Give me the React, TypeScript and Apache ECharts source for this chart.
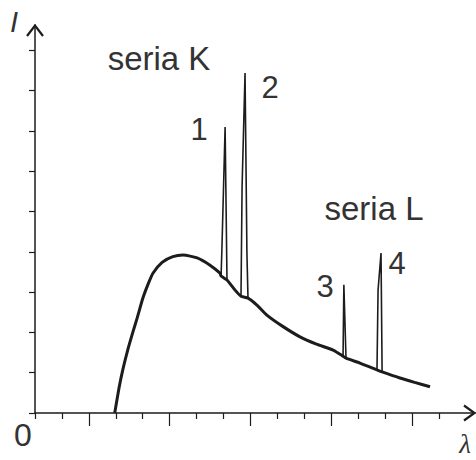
import React, { useEffect, useRef } from "react";
import * as echarts from "echarts";

// Continuous (bremsstrahlung) spectrum, lambda in tick units, intensity in tick units
const contLambda = [2.96, 3.12, 3.27, 3.45, 3.64, 3.79, 4.01, 4.2, 4.38, 4.72, 5.12, 5.5, 6.02, 6.5, 6.87, 6.91, 7.13, 7.43, 7.65, 7.91, 8.24, 8.61, 9.2, 9.84, 10.45, 11.07, 11.44, 11.55, 12.07, 12.7, 12.89, 13.55, 14.1, 14.67];
const contIntensity = [0, 0.62, 1.1, 1.58, 2.02, 2.35, 2.86, 3.2, 3.47, 3.74, 3.88, 3.92, 3.85, 3.67, 3.47, 3.4, 3.3, 3.05, 2.9, 2.85, 2.68, 2.43, 2.15, 1.89, 1.71, 1.56, 1.41, 1.36, 1.24, 1.07, 1.02, 0.87, 0.76, 0.65];

// Characteristic lines (spikes)
const spike1Lambda = [6.87, 6.91, 6.94, 7.06, 7.13];
const spike1Intensity = [3.47, 3.4, 4.04, 7.1, 3.3];
const spike2Lambda = [7.65, 7.69, 7.8, 7.87, 7.91];
const spike2Intensity = [2.9, 5.61, 8.44, 3.97, 2.85];
const spike3Lambda = [11.44, 11.47, 11.55];
const spike3Intensity = [1.41, 3.18, 1.36];
const spike4Lambda = [12.7, 12.74, 12.85, 12.89];
const spike4Intensity = [1.07, 3.05, 3.97, 1.02];

const yTicks = [0, 1, 2, 3, 4, 5, 6, 7, 8, 9];
const xShortTicks = [0, 1, 3, 4, 6, 7, 9, 10, 12, 13, 15];
const xLongTicks = [2, 5, 8, 11, 14];
const X_MAX = 16.34;
const Y_MAX = 9.63;

const zip = (xs: number[], ys: number[]) => xs.map((x, i) => [x, ys[i]]);

const INK = "#1c1c1c";
const TEXT = "#333333";
const FONT = "'Liberation Sans', Arial, Helvetica, sans-serif";

export default function App() {
  const ref = useRef<HTMLDivElement>(null);
  useEffect(() => {
    if (!ref.current) return;
    const chart = echarts.init(ref.current, null, { renderer: "svg" });
    const spikes = [
      zip(spike1Lambda, spike1Intensity),
      zip(spike2Lambda, spike2Intensity),
      zip(spike3Lambda, spike3Intensity),
      zip(spike4Lambda, spike4Intensity),
    ];
    const textStyle = (size: number, extra: any = {}) => ({
      fill: TEXT,
      fontSize: size,
      fontFamily: FONT,
      textAlign: "center",
      textVerticalAlign: "middle",
      ...extra,
    });
    const texts = [
      { type: "text", x: 159, y: 58, style: { text: "seria K", ...textStyle(33) } },
      { type: "text", x: 374, y: 208, style: { text: "seria L", ...textStyle(33) } },
      { type: "text", x: 199, y: 129, style: { text: "1", ...textStyle(31) } },
      { type: "text", x: 270, y: 87, style: { text: "2", ...textStyle(31) } },
      { type: "text", x: 325, y: 286, style: { text: "3", ...textStyle(31) } },
      { type: "text", x: 397, y: 263, style: { text: "4", ...textStyle(31) } },
      { type: "text", x: 23, y: 435, style: { text: "0", ...textStyle(32) } },
      { type: "text", x: 14, y: 22, style: { text: "I", ...textStyle(29, { fontStyle: "italic" }) } },
      {
        type: "text",
        x: 465,
        y: 444,
        style: { text: "λ", ...textStyle(27, { fontStyle: "italic", fontFamily: "'Liberation Serif', 'DejaVu Serif', serif" }) },
      },
    ];
    chart.setOption({
      animation: false,
      backgroundColor: "#ffffff",
      grid: { left: 35, right: 1, top: 25, bottom: 47, containLabel: false },
      xAxis: [
        {
          type: "value",
          min: 0,
          max: X_MAX,
          position: "bottom",
          splitLine: { show: false },
          axisLabel: { show: false },
          axisLine: {
            show: true,
            onZero: false,
            lineStyle: { color: INK, width: 1.5 },
          },
          axisTick: {
            show: true,
            customValues: xShortTicks,
            length: 6,
            lineStyle: { color: INK, width: 1.2 },
          },
        },
        {
          type: "value",
          min: 0,
          max: X_MAX,
          position: "bottom",
          offset: 0,
          splitLine: { show: false },
          axisLabel: { show: false },
          axisLine: { show: false },
          axisTick: {
            show: true,
            customValues: xLongTicks,
            length: 13,
            lineStyle: { color: INK, width: 1.2 },
          },
        },
      ],
      yAxis: {
        type: "value",
        min: 0,
        max: Y_MAX,
        splitLine: { show: false },
        axisLabel: { show: false },
        axisLine: {
          show: true,
          onZero: false,
          lineStyle: { color: INK, width: 1.5 },
        },
        axisTick: {
          show: true,
          customValues: yTicks,
          length: 6,
          lineStyle: { color: INK, width: 1.2 },
        },
      },
      series: [
        {
          type: "line",
          data: zip(contLambda, contIntensity),
          showSymbol: false,
          smooth: 0.2,
          lineStyle: { color: INK, width: 3 },
          z: 3,
        },
        ...spikes.map((d) => ({
          type: "line",
          data: d,
          showSymbol: false,
          lineStyle: { color: INK, width: 1.6 },
          z: 4,
        })),
      ],
      graphic: texts,
    });
    // open chevron arrow heads at the axis ends, positioned through the axes' scales
    const xEnd = chart.convertToPixel({ xAxisIndex: 0, yAxisIndex: 0 } as any, [X_MAX, 0]) as number[];
    const yEnd = chart.convertToPixel({ xAxisIndex: 0, yAxisIndex: 0 } as any, [0, Y_MAX]) as number[];
    const arrowStyle = { stroke: INK, lineWidth: 2.2, fill: "none", lineJoin: "miter" };
    chart.setOption({
      graphic: [
        ...texts,
        {
          type: "polyline",
          shape: {
            points: [
              [xEnd[0] - 11, xEnd[1] - 7.5],
              [xEnd[0] - 0.5, xEnd[1]],
              [xEnd[0] - 11, xEnd[1] + 7.5],
            ],
          },
          style: arrowStyle,
          z: 10,
        },
        {
          type: "polyline",
          shape: {
            points: [
              [yEnd[0] - 8, yEnd[1] + 11],
              [yEnd[0], yEnd[1] + 0.5],
              [yEnd[0] + 8, yEnd[1] + 11],
            ],
          },
          style: arrowStyle,
          z: 10,
        },
      ],
    });
    return () => chart.dispose();
  }, []);
  return <div ref={ref} style={{ width: 476, height: 460, position: "absolute", left: 0, top: 0 }} />;
}
